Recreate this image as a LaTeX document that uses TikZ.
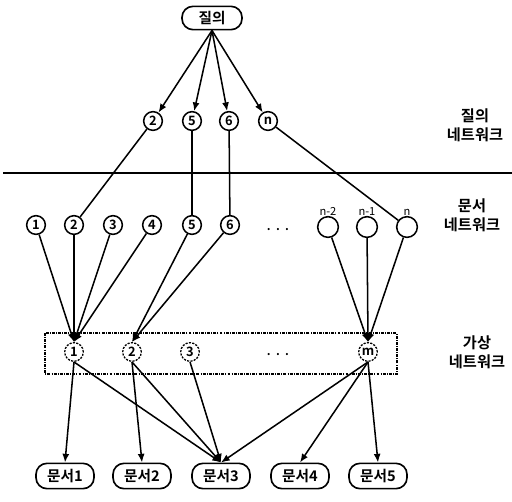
\documentclass[tikz,border=0pt]{standalone}
\usepackage{fontspec}
\setmainfont{Noto Sans CJK KR}[BoldFont={* Bold}]
\usetikzlibrary{arrows.meta}

\begin{document}
\begin{tikzpicture}[x=0.03cm, y=-0.03cm,
  qbox/.style={draw, line width=1.4pt, rounded corners=3.3mm,
    minimum width=1.8cm, minimum height=0.7cm, inner sep=0pt,
    font=\fontsize{12.5}{13}\selectfont\bfseries},
  docbox/.style={qbox, minimum width=1.74cm, minimum height=0.76cm},
  num/.style={circle, draw, line width=1.3pt, minimum size=5.6mm,
    inner sep=0pt, font=\fontsize{11}{11}\selectfont\bfseries},
  vnum/.style={num, line width=1.1pt, dash pattern=on 1.8pt off 1.1pt},
  side/.style={align=center, inner sep=0pt,
    font=\fontsize{13}{16}\selectfont\bfseries},
  arr/.style={-{Latex[length=2.6mm, width=2.1mm]}, line width=1.3pt},
  link/.style={line width=1.3pt},
]
  \useasboundingbox (0,0) rectangle (512,501);

  % Query network (top)
  \node[qbox] (q) at (212,18) {질의};
  \node[num] (q2) at (153,121) {2};
  \node[num] (q5) at (192,121) {5};
  \node[num] (q6) at (229,121) {6};
  \node[num] (qn) at (268,121) {n};
  \draw[arr] (q.south)--(q2); \draw[arr] (q.south)--(q5);
  \draw[arr] (q.south)--(q6); \draw[arr] (q.south)--(qn);
  \node[side] (lq) at (475,125) {질의\\네트워크};

  % Separator
  \draw[line width=2pt] (3,173) -- (512,173);

  % Document network
  \node[num] (d1) at (36,225) {1};
  \node[num] (d2) at (74,225) {2};
  \node[num] (d3) at (113,225) {3};
  \node[num] (d4) at (152,225) {4};
  \node[num] (d5) at (192,225) {5};
  \node[num] (d6) at (230,225) {6};
  \node[font=\bfseries] (ddots) at (278,230) {.\ \ .\ \ .};
  \node[num, minimum size=6.2mm, label={[font=\fontsize{9.5}{9}\selectfont, label distance=-1.2mm]above:n-2}] (dn2) at (328,227) {};
  \node[num, minimum size=6.2mm, label={[font=\fontsize{9.5}{9}\selectfont, label distance=-1.2mm]above:n-1}] (dn1) at (367,227) {};
  \node[num, minimum size=6.2mm, label={[font=\fontsize{9.5}{9}\selectfont, label distance=-1.2mm]above:n}] (dn) at (407,227) {};
  \node[side] (ld) at (472,215) {문서\\네트워크};

  \draw[link] (q2)--(d2); \draw[link] (q5)--(d5);
  \draw[link] (q6)--(d6); \draw[link] (qn)--(dn);

  % Virtual network
  \draw[line width=1pt, dash pattern=on 2.5pt off 1pt on 0.8pt off 1pt]
    (45,333) rectangle (397,374);
  \node[vnum] (v1) at (74,352) {1};
  \node[vnum] (v2) at (132,352) {2};
  \node[vnum] (v3) at (190,352) {3};
  \node[font=\bfseries] (vdots) at (278,355) {.\ \ .\ \ .};
  \node[vnum] (vm) at (368,352) {m};
  \node[side] (lv) at (477,352) {가상\\네트워크};

  \draw[arr] (d1)--(v1.north); \draw[arr] (d2)--(v1.north);
  \draw[arr] (d3)--(v1.north); \draw[arr] (d4)--(v1.north);
  \draw[arr] (d5)--(v2.north); \draw[arr] (d6)--(v2.north);
  \draw[arr] (dn2)--(vm.north); \draw[arr] (dn1)--(vm.north);
  \draw[arr] (dn)--(vm.north);

  % Documents (bottom)
  \node[docbox] (r1) at (65,476) {문서1};
  \node[docbox] (r2) at (142,476) {문서2};
  \node[docbox] (r3) at (221,476) {문서3};
  \node[docbox] (r4) at (300,476) {문서4};
  \node[docbox] (r5) at (378,476) {문서5};

  \draw[arr] (v1.south)--(r1.north); \draw[arr] (v1.south)--(r3.north);
  \draw[arr] (v2.south)--(r2.north); \draw[arr] (v2.south)--(r3.north);
  \draw[arr] (v3.south)--(r3.north); \draw[arr] (vm.south)--(r3.north);
  \draw[arr] (vm.south)--(r4.north); \draw[arr] (vm.south)--(r5.north);
\end{tikzpicture}
\end{document}
